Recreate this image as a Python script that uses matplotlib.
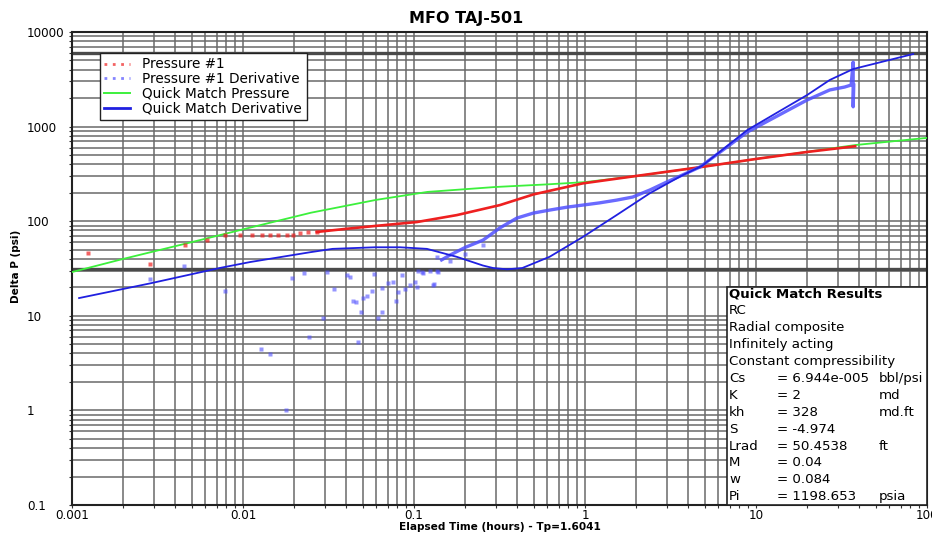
import matplotlib
matplotlib.use("Agg")
import matplotlib.pyplot as plt
from matplotlib.ticker import LogLocator, NullFormatter, FixedLocator, FixedFormatter
from matplotlib.lines import Line2D
from matplotlib.patches import Rectangle

plt.rcParams['font.family'] = ['DejaVu Sans']

# ---------------- data ----------------
# Quick Match Pressure (model, green)
qm_p_t = [0.001, 0.002, 0.005, 0.01, 0.025, 0.06, 0.12, 0.3, 0.6, 1.0, 2.0, 5.0, 10, 20, 38, 100]
qm_p_v = [29, 40, 60, 82, 123, 168, 204, 230, 245, 259, 300, 378, 455, 542, 638, 760]

# Pressure #1 (data, red) - sparse early samples
p1_early_t = [0.00124, 0.00286, 0.0046, 0.0062, 0.0079, 0.0096, 0.0113, 0.0129, 0.0144,
              0.0160, 0.0181, 0.0197, 0.0216, 0.024, 0.027]
p1_early_v = [46, 35, 56, 63, 71, 71, 71, 71, 71, 72, 72, 72, 75, 76, 77]
# Pressure #1 (data, red) - dense later samples
p1_t = [0.027, 0.04, 0.059, 0.104, 0.178, 0.318, 0.5, 0.97, 2.0, 5.0, 10, 20, 38]
p1_v = [77, 83, 89, 98, 116, 148, 192, 251, 301, 378, 455, 540, 620]

# Quick Match Derivative (model, blue line)
qm_d_t = [0.0011, 0.00286, 0.0073, 0.011, 0.0247, 0.0334, 0.059, 0.083, 0.119, 0.178,
          0.253, 0.29, 0.35, 0.43, 0.62, 0.97, 1.53, 2.4, 3.7, 4.83, 8.9, 19.9, 27, 37, 83]
qm_d_v = [15.4, 22, 32, 37, 47, 51, 53, 53, 51, 42,
          34, 32, 31, 32, 42, 68, 116, 198, 305, 384, 920, 2156, 3110, 4060, 5850]

# Pressure #1 Derivative (data, blue) - scattered early points
d1_sc_t = [0.00286, 0.0045, 0.0079, 0.0127, 0.0144, 0.0178, 0.0193, 0.0227, 0.0243, 0.0292,
           0.031, 0.034, 0.0406, 0.042, 0.044, 0.046, 0.047, 0.049, 0.050, 0.053,
           0.057, 0.058, 0.062, 0.065, 0.065, 0.070, 0.075, 0.079, 0.081, 0.085,
           0.088, 0.095, 0.101, 0.104, 0.106, 0.111, 0.113, 0.124, 0.13, 0.131,
           0.137, 0.137, 0.138, 0.163, 0.2, 0.253]
d1_sc_v = [24.5, 33.6, 18.3, 4.46, 3.95, 1.01, 25, 28, 5.97, 9.5,
           29, 19.2, 27, 26, 14.3, 14, 5.3, 11, 15.4, 16,
           18.3, 27.6, 9.5, 11, 19.9, 22, 23, 14.3, 17.9, 27,
           19, 21, 22.9, 20, 30, 29, 28, 29.7, 21, 21.7,
           30, 42, 29, 38, 45, 56]
# Pressure #1 Derivative (data, blue) - dense band
d1_t = [0.145, 0.163, 0.2, 0.253, 0.318, 0.40, 0.50, 0.62, 0.79, 0.97, 1.21, 1.53, 1.9,
        2.4, 3.0, 3.7, 4.7, 8.9, 19.9, 27, 33, 36, 37, 37, 37.3]
d1_v = [39, 44, 53, 63, 85, 108, 122, 131, 141, 148, 156, 167, 180,
        214, 259, 307, 374, 877, 1910, 2440, 2620, 2750, 4800, 1620, 2750]

# marker lines
h_lines = [6000, 31.3]

title = "MFO TAJ-501"
xlabel = "Elapsed Time (hours) - Tp=1.6041"
ylabel = "Delta P (psi)"
x_ticks = [0.001, 0.01, 0.1, 1, 10, 100]
x_ticklabels = ["0.001", "0.01", "0.1", "1", "10", "100"]
y_ticks = [0.1, 1, 10, 100, 1000, 10000]
y_ticklabels = ["0.1", "1", "10", "100", "1000", "10000"]

legend_labels = ["Pressure #1", "Pressure #1 Derivative", "Quick Match Pressure", "Quick Match Derivative"]

res_title = "Quick Match Results"
res_lines = ["RC", "Radial composite", "Infinitely acting", "Constant compressibility"]
res_names = ["Cs", "K", "kh", "S", "Lrad", "M", "w", "Pi"]
res_values = ["= 6.944e-005", "= 2", "= 328", "= -4.974", "= 50.4538", "= 0.04", "= 0.084", "= 1198.653"]
res_units = ["bbl/psi", "md", "md.ft", "", "ft", "", "", "psia"]

# colors
c_red = "#ee2020"
c_green = "#3cf03c"
c_blue_model = "#2020e0"
c_blue_data = "#5050ff"

# ---------------- figure ----------------
W, H = 932, 534
fig = plt.figure(figsize=(W / 100, H / 100), dpi=100)
ax = fig.add_axes([72 / W, 1 - 505 / H, (927 - 72) / W, (505 - 32) / H])
ax.set_xscale("log")
ax.set_yscale("log")
ax.set_xlim(0.001, 100)
ax.set_ylim(0.1, 10000)

ax.xaxis.set_major_locator(FixedLocator(x_ticks))
ax.xaxis.set_major_formatter(FixedFormatter(x_ticklabels))
ax.yaxis.set_major_locator(FixedLocator(y_ticks))
ax.yaxis.set_major_formatter(FixedFormatter(y_ticklabels))
ax.xaxis.set_minor_locator(LogLocator(base=10, subs=range(2, 10), numticks=20))
ax.yaxis.set_minor_locator(LogLocator(base=10, subs=range(2, 10), numticks=20))
ax.xaxis.set_minor_formatter(NullFormatter())
ax.yaxis.set_minor_formatter(NullFormatter())
ax.grid(True, which="both", color="#6a6a6a", lw=1.1, zorder=0)
ax.set_axisbelow(True)
ax.tick_params(which="both", length=2, width=0.8, labelsize=8.6, color="#333333")
ax.tick_params(axis="x", pad=1)
# y tick labels are left-aligned at x ~ 27 px in the reference
ax.tick_params(axis="y", pad=(72 - 27 - 2.8) / 1.389)
for lbl in ax.get_yticklabels():
    lbl.set_horizontalalignment("left")
for s in ax.spines.values():
    s.set_linewidth(1.5)
    s.set_color("#222222")

for hv in h_lines:
    ax.axhline(hv, color="#4a4a4a", lw=2.4, zorder=1)

# curves
ax.plot(qm_p_t, qm_p_v, color=c_green, lw=1.3, zorder=3)
ax.plot(p1_early_t, p1_early_v, ls="none", marker="s", ms=2.2, mec="none", color=c_red, alpha=0.7, zorder=4)
ax.plot(p1_t, p1_v, color=c_red, lw=1.9, zorder=4)
ax.plot(d1_sc_t, d1_sc_v, ls="none", marker="s", ms=2.4, mec="none", color=c_blue_data, alpha=0.6, zorder=4)
ax.plot(d1_t, d1_v, color=c_blue_data, lw=2.4, alpha=0.85, zorder=4)
ax.plot(qm_d_t, qm_d_v, color=c_blue_model, lw=1.3, zorder=5)

# legend
handles = [
    Line2D([], [], color=c_red, ls=(0, (1.0, 2.0)), lw=2, alpha=0.7),
    Line2D([], [], color=c_blue_data, ls=(0, (1.0, 2.0)), lw=2, alpha=0.7),
    Line2D([], [], color=c_green, lw=1.4),
    Line2D([], [], color=c_blue_model, lw=2),
]
leg = ax.legend(handles, legend_labels, loc="upper left",
                bbox_to_anchor=((100 - 72) / 855, (505 - 53) / 473),
                borderaxespad=0, fontsize=9.8, frameon=True, fancybox=False,
                edgecolor="#222222", framealpha=1, handlelength=1.9,
                handletextpad=0.9, labelspacing=0.05, borderpad=0.32)
leg.get_frame().set_linewidth(1.0)
leg.set_zorder(10)

# results box
box = Rectangle(((727 - 72) / 855, 0), (927 - 727) / 855, (505 - 287) / 473,
                transform=ax.transAxes, facecolor="white", edgecolor="#222222",
                lw=1.2, zorder=9, clip_on=False)
ax.add_patch(box)

def ftext(px, py, s, **kw):
    fig.text(px / W, 1 - py / H, s, va="center", ha="left", fontsize=9.6, zorder=11, **kw)

row_y0 = 294
dy = 16.9
ftext(729, row_y0, res_title, fontweight="bold")
for i, s in enumerate(res_lines):
    ftext(729, row_y0 + dy * (i + 1), s)
for j, (n, v, u) in enumerate(zip(res_names, res_values, res_units)):
    y = row_y0 + dy * (len(res_lines) + 1 + j)
    ftext(729, y, n)
    ftext(777, y, v)
    if u:
        ftext(879, y, u)

# titles
fig.text(0.5, 1 - 18 / H, title, ha="center", va="center", fontsize=11.5, fontweight="bold")
ax.set_xlabel(xlabel, fontsize=7.6, fontweight="bold")
ax.xaxis.set_label_coords(0.5, -(522 - 505) / 473)
ax.set_ylabel(ylabel, fontsize=7.6, fontweight="bold")
ax.yaxis.set_label_coords((21 - 72) / 855, (505 - 266) / 473)

fig.savefig("out.png", dpi=100)
